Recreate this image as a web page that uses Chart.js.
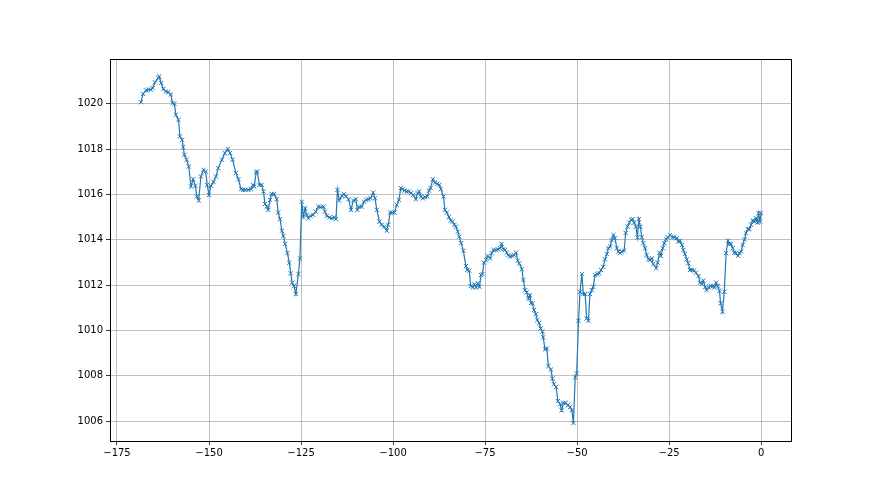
<!DOCTYPE html>
<html>
<head>
<meta charset="utf-8">
<script src="https://cdn.jsdelivr.net/npm/chart.js@4.4.1/dist/chart.umd.min.js"></script>
<style>
  html, body { margin: 0; padding: 0; background: #fff; }
  #wrap { width: 880px; height: 495px; }
</style>
</head>
<body>
<div id="wrap"><canvas id="pressureChart" width="880" height="495"></canvas></div>
<script>
// hours relative to now
const hours = [
  -168.5, -167.9, -167.1, -166.5, -165.8, -165.3, -164.7, -163.8, -163.5, -163.0,
  -162.4, -161.7, -161.1, -160.4, -159.9, -159.4, -159.0, -158.3, -157.9, -157.3,
  -157.0, -156.7, -156.1, -155.5, -154.9, -154.3, -153.7, -153.3, -152.8, -152.2,
  -151.5, -150.9, -150.5, -150.0, -149.5, -148.8, -148.1, -147.5, -146.5, -145.7,
  -144.9, -144.3, -143.6, -142.7, -142.0, -141.3, -140.7, -140.2, -139.3, -138.6,
  -138.1, -137.7, -137.2, -136.9, -136.3, -135.7, -135.2, -134.8, -134.3, -133.9,
  -133.4, -133.0, -132.3, -131.6, -131.2, -130.7, -130.2, -129.8, -129.3, -128.7,
  -128.2, -127.8, -127.4, -126.9, -126.4, -125.7, -125.3, -124.8, -124.4, -123.9,
  -123.5, -123.0, -122.4, -121.7, -121.0, -120.3, -119.7, -118.9, -118.5, -118.0,
  -117.3, -116.7, -116.0, -115.5, -115.1, -114.6, -113.9, -113.3, -112.8, -112.1,
  -111.4, -110.8, -110.1, -109.7, -109.2, -108.5, -107.9, -107.3, -106.7, -106.1,
  -105.4, -104.9, -104.4, -103.7, -103.1, -102.4, -101.7, -101.3, -100.8, -100.2,
  -99.6, -99.0, -98.4, -97.9, -97.4, -96.9, -96.3, -95.7, -95.1, -94.5,
  -93.8, -93.3, -92.9, -92.4, -91.9, -91.3, -90.7, -90.2, -89.8, -89.2,
  -88.6, -88.0, -87.4, -87.0, -86.3, -85.9, -85.4, -84.8, -84.3, -83.8,
  -83.3, -82.9, -82.4, -82.0, -81.5, -80.9, -80.2, -79.8, -79.3, -78.9,
  -78.3, -77.9, -77.4, -77.0, -76.5, -76.1, -75.7, -75.3, -74.7, -74.3,
  -73.6, -73.2, -72.7, -72.1, -71.5, -70.9, -70.5, -70.0, -69.6, -69.1,
  -68.7, -68.2, -67.6, -67.1, -66.6, -66.1, -65.7, -65.0, -64.6, -64.1,
  -63.7, -63.2, -62.8, -62.5, -62.1, -61.7, -61.2, -60.8, -60.3, -59.9,
  -59.4, -59.2, -58.7, -58.2, -57.8, -57.1, -56.7, -56.3, -55.7, -55.2,
  -54.6, -54.2, -53.7, -53.1, -52.5, -51.9, -51.4, -51.0, -50.5, -50.1,
  -49.6, -49.2, -48.7, -48.3, -47.8, -47.4, -46.9, -46.5, -46.0, -45.6,
  -45.1, -44.5, -44.0, -43.5, -42.9, -42.4, -41.9, -41.5, -41.0, -40.6,
  -40.1, -39.7, -39.2, -38.8, -38.3, -37.9, -37.2, -36.8, -36.3, -35.8,
  -35.3, -34.9, -34.5, -34.0, -33.6, -33.2, -32.8, -32.4, -32.0, -31.5,
  -31.1, -30.6, -30.2, -29.7, -29.3, -28.5, -28.1, -27.6, -27.2, -26.7,
  -26.3, -25.8, -25.4, -24.7, -24.1, -23.6, -22.9, -22.5, -22.0, -21.5,
  -21.1, -20.7, -20.2, -19.8, -19.3, -18.7, -18.2, -17.7, -17.0, -16.6,
  -16.1, -15.7, -15.2, -14.8, -14.3, -13.7, -13.1, -12.7, -12.2, -11.8,
  -11.3, -11.0, -10.5, -10.0, -9.5, -9.0, -8.6, -8.2, -7.7, -7.3,
  -6.8, -6.3, -5.9, -5.4, -5.0, -4.5, -4.1, -3.6, -3.2, -2.7,
  -2.3, -1.8, -1.4, -1.0, -0.7, -0.3, 0.0
];

// pressure readings (hPa)
const pressure = [
  1020.07, 1020.43, 1020.59, 1020.62, 1020.62, 1020.69, 1020.94, 1021.14, 1021.20, 1020.91,
  1020.65, 1020.54, 1020.50, 1020.41, 1020.03, 1020.00, 1019.51, 1019.29, 1018.56, 1018.41,
  1018.09, 1017.75, 1017.53, 1017.23, 1016.35, 1016.67, 1016.38, 1015.91, 1015.73, 1016.79,
  1017.08, 1017.01, 1016.42, 1015.98, 1016.38, 1016.55, 1016.79, 1017.16, 1017.53, 1017.82,
  1018.00, 1017.82, 1017.53, 1016.94, 1016.67, 1016.23, 1016.20, 1016.20, 1016.20, 1016.23,
  1016.42, 1016.35, 1016.97, 1017.01, 1016.42, 1016.42, 1016.13, 1015.58, 1015.46, 1015.32,
  1015.76, 1016.02, 1016.02, 1015.79, 1015.20, 1014.91, 1014.40, 1014.17, 1013.82, 1013.41,
  1012.99, 1012.52, 1012.11, 1011.96, 1011.61, 1012.49, 1013.18, 1015.68, 1015.02, 1015.39,
  1015.10, 1014.95, 1015.05, 1015.10, 1015.24, 1015.46, 1015.44, 1015.46, 1015.24, 1015.05,
  1014.99, 1014.95, 1014.99, 1014.91, 1016.20, 1015.73, 1015.94, 1016.02, 1015.91, 1015.79,
  1015.32, 1015.73, 1015.79, 1015.32, 1015.46, 1015.46, 1015.68, 1015.76, 1015.79, 1015.83,
  1016.08, 1015.83, 1015.32, 1014.80, 1014.66, 1014.58, 1014.40, 1014.66, 1015.20, 1015.20,
  1015.20, 1015.54, 1015.76, 1016.28, 1016.24, 1016.17, 1016.13, 1016.13, 1016.06, 1015.98,
  1015.79, 1016.06, 1016.13, 1015.91, 1015.83, 1015.88, 1015.91, 1016.17, 1016.28, 1016.67,
  1016.52, 1016.47, 1016.42, 1016.23, 1015.91, 1015.32, 1015.20, 1015.00, 1014.85, 1014.80,
  1014.66, 1014.58, 1014.36, 1014.14, 1013.85, 1013.52, 1012.84, 1012.67, 1012.64, 1011.96,
  1011.90, 1012.04, 1011.90, 1012.08, 1011.93, 1012.45, 1012.49, 1012.99, 1013.11, 1013.29,
  1013.18, 1013.41, 1013.55, 1013.55, 1013.58, 1013.63, 1013.82, 1013.58, 1013.55, 1013.43,
  1013.33, 1013.26, 1013.29, 1013.33, 1013.43, 1013.08, 1012.96, 1012.70, 1012.23, 1011.78,
  1011.68, 1011.40, 1011.56, 1011.22, 1011.20, 1010.90, 1010.72, 1010.46, 1010.34, 1010.09,
  1009.95, 1009.70, 1009.17, 1009.21, 1008.43, 1008.28, 1007.88, 1007.63, 1007.51, 1006.89,
  1006.75, 1006.48, 1006.81, 1006.81, 1006.71, 1006.63, 1006.48, 1005.92, 1007.93, 1008.11,
  1010.43, 1011.71, 1012.49, 1011.61, 1011.61, 1010.53, 1010.43, 1011.61, 1011.78, 1011.93,
  1012.45, 1012.49, 1012.52, 1012.67, 1012.81, 1013.14, 1013.37, 1013.63, 1013.70, 1013.99,
  1014.21, 1014.07, 1013.63, 1013.48, 1013.41, 1013.48, 1013.52, 1014.30, 1014.58, 1014.76,
  1014.88, 1014.91, 1014.76, 1014.58, 1014.11, 1014.91, 1014.58, 1014.11, 1013.85, 1013.63,
  1013.33, 1013.14, 1013.11, 1013.18, 1012.93, 1012.74, 1012.99, 1013.43, 1013.29, 1013.63,
  1013.85, 1014.02, 1014.11, 1014.21, 1014.11, 1014.11, 1014.07, 1013.92, 1013.96, 1013.77,
  1013.55, 1013.37, 1013.14, 1012.96, 1012.67, 1012.67, 1012.64, 1012.55, 1012.40, 1012.11,
  1012.05, 1012.20, 1011.93, 1011.78, 1011.90, 1011.96, 1011.96, 1011.90, 1012.11, 1011.96,
  1011.75, 1011.20, 1010.83, 1011.71, 1013.41, 1013.96, 1013.82, 1013.82, 1013.63, 1013.43,
  1013.41, 1013.29, 1013.41, 1013.48, 1013.77, 1014.02, 1014.29, 1014.47, 1014.47, 1014.66,
  1014.85, 1014.80, 1014.95, 1014.76, 1015.17, 1014.80, 1015.17
];

const xTicks = [-175, -150, -125, -100, -75, -50, -25, 0];
const yTicks = [1006, 1008, 1010, 1012, 1014, 1016, 1018, 1020];

const points = hours.map((h, i) => ({ x: h, y: pressure[i] }));

// matplotlib-style tick text: plain integers, real minus sign
const tickText = v => (v < 0 ? '\u2212' + Math.abs(v) : String(v));

// draws the full box around the axes, like matplotlib spines
const frame = {
    id: 'frame',
    afterDraw(chart) {
        const a = chart.chartArea;
        const ctx = chart.ctx;
        ctx.save();
        ctx.strokeStyle = '#000';
        ctx.lineWidth = 1;
        ctx.strokeRect(Math.round(a.left) + 0.5, Math.round(a.top) + 0.5,
                       Math.round(a.right - a.left) - 1, Math.round(a.bottom - a.top));
        ctx.restore();
    }
};

Chart.defaults.font.family = '"DejaVu Sans", sans-serif';
Chart.defaults.font.size = 10;
Chart.defaults.color = '#000';

const ctx = document.getElementById('pressureChart').getContext('2d');

new Chart(ctx, {
    type: 'line',
    data: {
        datasets: [{
            data: points,
            borderColor: '#1f77b4',
            backgroundColor: '#1f77b4',
            borderWidth: 1.2,
            pointStyle: 'crossRot',
            pointRadius: 3,
            pointBorderWidth: 1,
            pointBorderColor: '#1f77b4',
            tension: 0,
            fill: false
        }]
    },
    options: {
        responsive: false,
        animation: false,
        devicePixelRatio: 1,
        layout: { padding: { left: 0, right: 88, top: 59, bottom: 0 } },
        plugins: {
            legend: { display: false },
            tooltip: { enabled: false }
        },
        scales: {
            x: {
                type: 'linear',
                min: -176.9,
                max: 8.4,
                afterFit: s => { s.height = 54; },
                afterBuildTicks: s => { s.ticks = xTicks.map(v => ({ value: v })); },
                grid: { color: '#b0b0b0', lineWidth: 0.8, tickColor: '#000', tickLength: 4, drawTicks: true },
                border: { display: false },
                ticks: { padding: 2, maxRotation: 0, autoSkip: false, callback: tickText }
            },
            y: {
                min: 1005.13,
                max: 1021.97,
                afterFit: s => { s.width = 110; },
                afterBuildTicks: s => { s.ticks = yTicks.map(v => ({ value: v })); },
                grid: { color: '#b0b0b0', lineWidth: 0.8, tickColor: '#000', tickLength: 4, drawTicks: true },
                border: { display: false },
                ticks: { padding: 3, autoSkip: false, callback: tickText }
            }
        }
    },
    plugins: [frame]
});
</script>
</body>
</html>
